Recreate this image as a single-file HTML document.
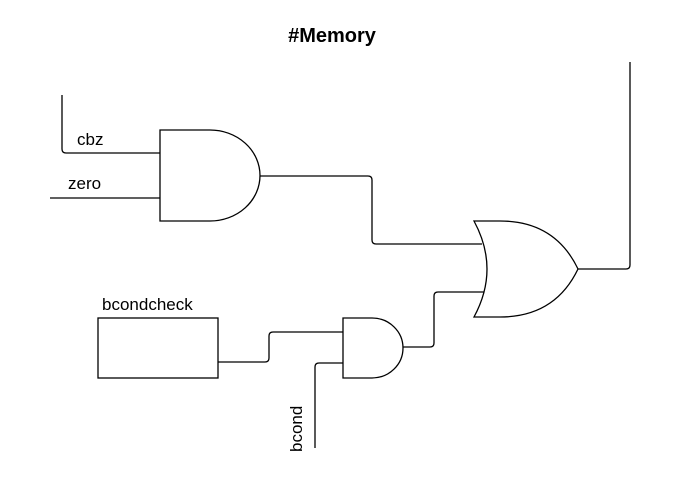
<!DOCTYPE html>
<html><head><style>body{margin:0;background:#fff}svg{display:block}</style></head><body>
<svg width="684" height="494" viewBox="0 0 684 494" xmlns="http://www.w3.org/2000/svg" font-family="Liberation Sans, DejaVu Sans, sans-serif">
<rect width="684" height="494" fill="#fff"/>
<text x="332" y="42" text-anchor="middle" font-size="20" font-weight="bold">#Memory</text>
<g fill="none" stroke="#000" stroke-width="1.3">
<path d="M62 95 V149 Q62 153 66 153 H160"/>
<path d="M50 198 H160"/>
<path d="M160 130 H210 A50 45.5 0 0 1 210 221 H160 Z"/>
<path d="M260 176 H368 Q372 176 372 180 V240 Q372 244 376 244 H482"/>
<path d="M474 221 H500 Q555 221 578 269 Q555 317 500 317 H474 Q500 269 474 221 Z"/>
<path d="M578 269 H626 Q630 269 630 265 V62"/>
<path d="M343 318 H372 A31 30 0 0 1 372 378 H343 Z"/>
<rect x="98" y="318" width="120" height="60"/>
<path d="M218 362 H265 Q269 362 269 358 V336 Q269 332 273 332 H343"/>
<path d="M315 448 V367 Q315 363 319 363 H343"/>
<path d="M403 347 H430 Q434 347 434 343 V296 Q434 292 438 292 H484"/>
</g>
<g font-size="17" fill="#000">
<text x="77" y="145">cbz</text>
<text x="68" y="189">zero</text>
<text x="102" y="310">bcondcheck</text>
<text transform="translate(302,452) rotate(-90)">bcond</text>
</g>
</svg>
</body></html>
